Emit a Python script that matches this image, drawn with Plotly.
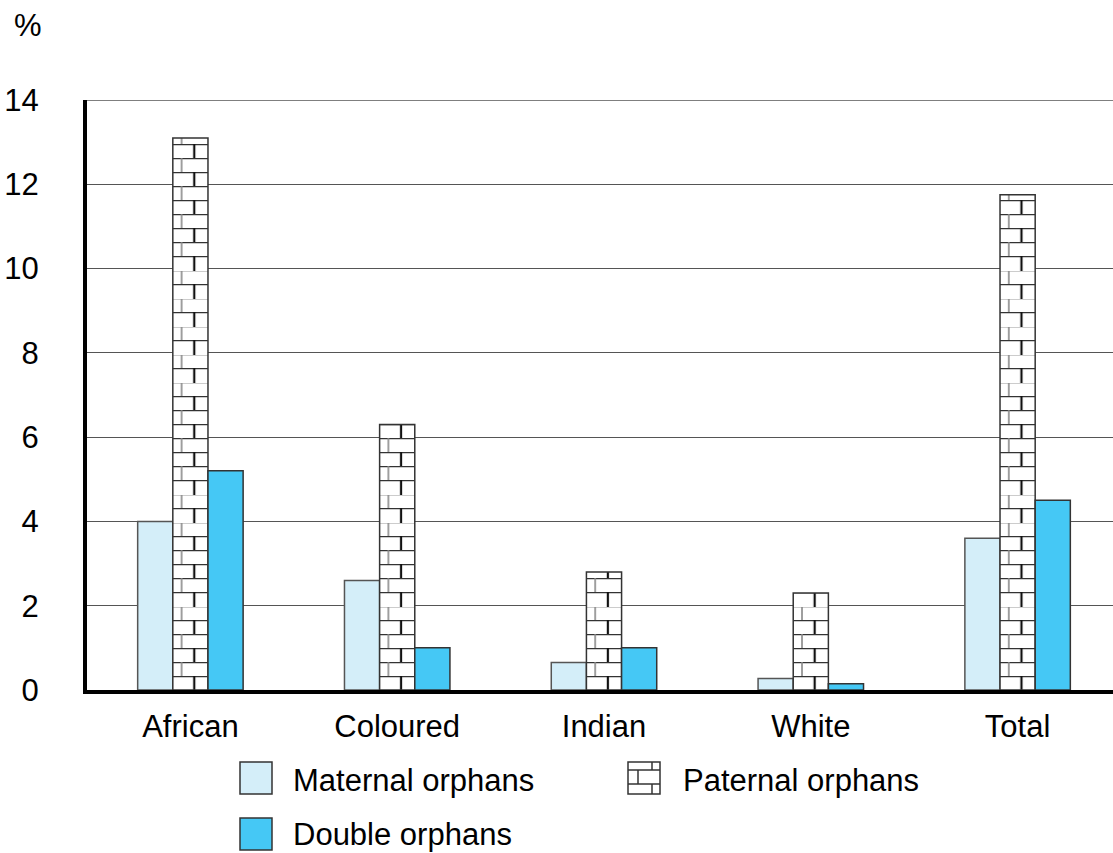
import plotly.graph_objects as go

categories = ["African", "Coloured", "Indian", "White", "Total"]
maternal = [4.0, 2.6, 0.65, 0.27, 3.6]
paternal = [13.1, 6.3, 2.8, 2.3, 11.75]
double = [5.2, 1.0, 1.0, 0.15, 4.5]
y_ticks = [0, 2, 4, 6, 8, 10, 12, 14]
series_names = ["Maternal orphans", "Paternal orphans", "Double orphans"]

FONT = "Liberation Sans, Arial, Helvetica, sans-serif"
FS = 31
W, H = 1121, 853
ML, MR, MT, MB = 87, 0, 100, 163

C_MAT = "#d4eef9"
C_DBL = "#45c8f5"


def pxx(x):
    # x in window pixels -> paper
    return (x - ML) / (W - ML - MR)


def pxy(y):
    return (H - MB - y) / (H - MB - MT)


fig = go.Figure()
fig.add_bar(x=categories, y=maternal, name=series_names[0],
            marker=dict(color=C_MAT, line=dict(color="#555", width=1.5)))
fig.add_bar(x=categories, y=paternal, name=series_names[1],
            marker=dict(color="white", line=dict(color="#333", width=1.5),
                        pattern=dict(shape="-", fgcolor="#333", bgcolor="white",
                                     size=14, solidity=0.1)))
fig.add_bar(x=categories, y=double, name=series_names[2],
            marker=dict(color=C_DBL, line=dict(color="#333", width=1.5)))

fig.update_layout(
    width=W, height=H,
    margin=dict(l=ML, r=MR, t=MT, b=MB, pad=0, autoexpand=False),
    plot_bgcolor="white", paper_bgcolor="white",
    barmode="group", bargap=0.49, bargroupgap=0,
    showlegend=False,
    font=dict(family=FONT, size=FS, color="black"),
)
fig.update_xaxes(showline=True, linecolor="black", linewidth=4, ticks="",
                 showgrid=False, range=[-0.5, 4.5], ticklabelstandoff=6,
                 automargin=False,
                 tickfont=dict(family=FONT, size=FS, color="black"))
fig.update_yaxes(range=[0, 14], tickvals=y_ticks, showgrid=True,
                 gridcolor="#555", gridwidth=1.3, showline=True,
                 linecolor="black", linewidth=4, ticks="", zeroline=False,
                 ticklabelstandoff=38, automargin=False,
                 tickfont=dict(family=FONT, size=FS, color="black"))

shapes = []
annotations = []

# top gridline at the axis maximum
shapes.append(dict(type="line", xref="paper", yref="y", x0=0, x1=1,
                   y0=y_ticks[-1], y1=y_ticks[-1], layer="below",
                   line=dict(color="#555", width=1.3)))

# "%" unit label
annotations.append(dict(text="%", xref="paper", yref="paper", x=pxx(28), y=pxy(26),
                        xanchor="center", yanchor="middle", showarrow=False,
                        font=dict(family=FONT, size=FS, color="black")))

# custom legend
def swatch(x0, y0, color):
    shapes.append(dict(type="rect", xref="paper", yref="paper",
                       x0=pxx(x0), x1=pxx(x0 + 32), y0=pxy(y0), y1=pxy(y0 + 32),
                       fillcolor=color, line=dict(color="#333", width=1.5)))

swatch(240, 762, C_MAT)
swatch(240, 818, C_DBL)
swatch(628, 762, "white")
# brick lines inside paternal swatch
for (xa, ya, xb, yb) in [(628, 770, 660, 770), (628, 784, 660, 784),
                         (652, 762, 652, 770), (638, 770, 638, 784), (652, 784, 652, 794)]:
    shapes.append(dict(type="line", xref="paper", yref="paper",
                       x0=pxx(xa), x1=pxx(xb), y0=pxy(ya), y1=pxy(yb),
                       line=dict(color="#333", width=1.5)))

for (tx, ty, name) in [(291, 780, series_names[0]), (681, 780, series_names[1]),
                       (291, 834, series_names[2])]:
    annotations.append(dict(text=name, xref="paper", yref="paper", x=pxx(tx), y=pxy(ty),
                            xanchor="left", yanchor="middle", showarrow=False,
                            font=dict(family=FONT, size=FS, color="black")))

fig.update_layout(shapes=shapes, annotations=annotations)

post = """
document.body.style.margin = '0';
document.body.style.overflow = 'hidden';
var gd = document.getElementById('{plot_id}');
function brick(){
  var svgns = 'http://www.w3.org/2000/svg';
  var defs = gd.querySelector('defs');
  var traces = gd.querySelectorAll('.barlayer g.trace.bars');
  if (!defs || traces.length < 2) return;
  var paths = traces[1].querySelectorAll('g.point path');
  paths.forEach(function(p, i){
    var bb = p.getBBox();
    var w = bb.width, h = 28, r = 14;
    var id = 'brickpat' + i;
    var old = document.getElementById(id); if (old) old.remove();
    var pat = document.createElementNS(svgns, 'pattern');
    pat.setAttribute('id', id);
    pat.setAttribute('patternUnits', 'userSpaceOnUse');
    pat.setAttribute('x', bb.x); pat.setAttribute('y', bb.y + bb.height);
    pat.setAttribute('width', w); pat.setAttribute('height', h);
    var s = '<rect x="0" y="0" width="'+w+'" height="'+h+'" fill="#ffffff"/>';
    s += '<path d="M0,0.7H'+w+'M0,'+(r+0.7)+'H'+w+'" stroke="#333" stroke-width="1.3" fill="none"/>';
    s += '<path d="M'+(0.25*w)+',0V'+r+'" stroke="#888" stroke-width="1.6" fill="none"/>';
    s += '<path d="M'+(0.61*w)+','+r+'V'+h+'" stroke="#111" stroke-width="2.2" fill="none"/>';
    pat.innerHTML = s;
    defs.appendChild(pat);
    p.style.fill = 'url(#' + id + ')';
  });
}
brick();
"""

fig.write_html("out.html", post_script=post, config={"displayModeBar": False})
